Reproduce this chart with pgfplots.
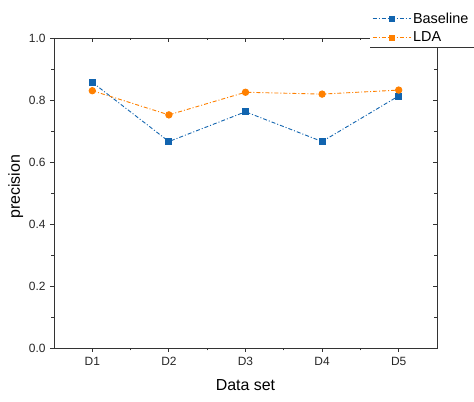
\documentclass[border=0pt]{standalone}
\usepackage{fontspec}
\setmainfont{Liberation Sans}
\usepackage{pgfplots}
\pgfplotsset{compat=1.18}
\definecolor{cbase}{RGB}{17,100,175}
\definecolor{clda}{RGB}{255,128,0}
\begin{document}
\begin{tikzpicture}
\useasboundingbox (-54bp,-54bp) rectangle (420bp,348bp);
\pgfplotsset{
  common/.style={
    at={(0,0)}, anchor=south west,
    scale only axis, width=383bp, height=310bp,
    xmin=0.5, xmax=5.5, ymin=0, ymax=1,
    xtick={1,2,3,4,5}, minor xtick={1.5,2.5,3.5,4.5},
    ytick={0,0.2,0.4,0.6,0.8,1.0}, minor ytick={0.1,0.3,0.5,0.7,0.9},
    major tick length=4bp, minor tick length=2.5bp,
    axis line style={line width=0.9bp, black!80},
    tick style={line width=0.8bp, black!80},
  }
}
% top and right ticks, pointing inward
\begin{axis}[common,
  xtick pos=upper, ytick pos=right, tick align=inside,
  xticklabels={}, yticklabels={},
]
\addplot[draw=none, forget plot] coordinates {(1,0.5)};
\end{axis}
\begin{axis}[common,
  xtick pos=lower, ytick pos=left, tick align=outside,
  xticklabels={D1,D2,D3,D4,D5},
  yticklabel style={/pgf/number format/fixed, /pgf/number format/fixed zerofill, /pgf/number format/precision=1},
  /pgf/number format/assume math mode=true,
  ticklabel style={font=\fontsize{12}{14}\selectfont, text=black!85},
  xticklabel style={yshift=-2bp},
  yticklabel style={xshift=-1bp},
  xlabel={Data set}, ylabel={precision},
  label style={font=\fontsize{16}{18}\selectfont},
  xlabel style={at={(axis description cs:0.5,-0.119)}, anchor=center},
  ylabel style={at={(axis description cs:-0.10,0.52)}, anchor=center},
  legend style={at={(axis description cs:0.825,0.971)}, anchor=south west,
    draw=none, fill=white, font=\fontsize{14.5}{16}\selectfont,
    row sep=3bp, inner xsep=2bp, inner ysep=1.5bp},
  legend cell align=left,
  legend image code/.code={\draw[mark repeat=2,mark phase=2] plot coordinates {(0bp,0bp) (19bp,0bp) (38bp,0bp)};},
]
\addplot[color=cbase, line width=0.9bp, dash pattern=on 4bp off 2bp on 1bp off 2bp, mark=square*, mark size=3bp, mark options={solid}, forget plot]
  coordinates {(1,0.857) (2,0.666) (3,0.762) (4,0.666) (5,0.813)};
\addplot[color=clda, line width=0.9bp, dash pattern=on 4bp off 2bp on 1bp off 2bp, mark=*, mark size=3.2bp, mark options={solid}, forget plot]
  coordinates {(1,0.830) (2,0.752) (3,0.825) (4,0.819) (5,0.832)};
\addlegendimage{color=cbase, line width=0.9bp, dash pattern=on 4bp off 2bp on 1bp off 2bp, mark=square*, mark size=2.5bp, mark options={solid}}
\addlegendentry{Baseline}
\addlegendimage{color=clda, line width=0.9bp, dash pattern=on 4bp off 2bp on 1bp off 2bp, mark=square*, mark size=2.5bp, mark options={solid}}
\addlegendentry{LDA}
\end{axis}
\draw[line width=0.9bp, black!80] (316bp,301bp) -- (420bp,301bp);
\end{tikzpicture}
\end{document}
